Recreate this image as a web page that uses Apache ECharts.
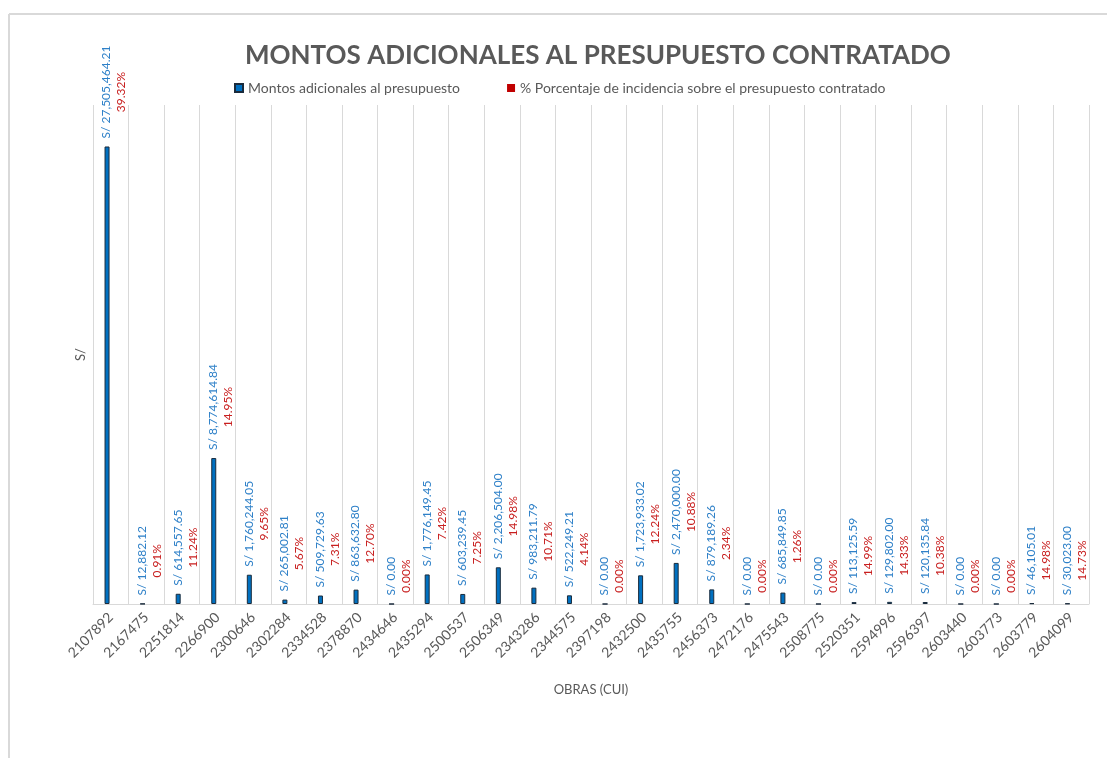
<!DOCTYPE html>
<html>
<head>
<meta charset="utf-8">
<script src="https://cdn.jsdelivr.net/npm/echarts@6/dist/echarts.min.js"></script>
<style>
html,body{margin:0;padding:0;background:#fff;}
#c{width:1107px;height:758px;}
</style>
</head>
<body>
<div id="c"></div>
<script>
const categories = ['2107892','2167475','2251814','2266900','2300646','2302284','2334528','2378870','2434646','2435294','2500537','2506349','2343286','2344575','2397198','2432500','2435755','2456373','2472176','2475543','2508775','2520351','2594996','2596397','2603440','2603773','2603779','2604099'];
const montos = [27505464.21, 12882.12, 614557.65, 8774614.84, 1760244.05, 265002.81, 509729.63, 863632.80, 0.00, 1776149.45, 603239.45, 2206504.00, 983211.79, 522249.21, 0.00, 1723933.02, 2470000.00, 879189.26, 0.00, 685849.85, 0.00, 113125.59, 129802.00, 120135.84, 0.00, 0.00, 46105.01, 30023.00];
const porcentajes = [39.32, 0.91, 11.24, 14.95, 9.65, 5.67, 7.31, 12.70, 0.00, 7.42, 7.25, 14.98, 10.71, 4.14, 0.00, 12.24, 10.88, 2.34, 0.00, 1.26, 0.00, 14.99, 14.33, 10.38, 0.00, 0.00, 14.98, 14.73];
const yMax = 30000000;

const FONT = 'Lato, "Open Sans", "Liberation Sans", sans-serif';
const fmtMoney = v => 'S/ ' + v.toLocaleString('en-US', {minimumFractionDigits: 2, maximumFractionDigits: 2});

const chart = echarts.init(document.getElementById('c'), null, {renderer: 'canvas'});
chart.setOption({
  backgroundColor: '#ffffff',
  animation: false,
  textStyle: {fontFamily: FONT},
  graphic: [
    {type: 'line', shape: {x1: 9, y1: 14, x2: 9, y2: 758}, style: {stroke: '#d9d9d9', lineWidth: 2}},
    {type: 'line', shape: {x1: 9, y1: 14, x2: 1107, y2: 14}, style: {stroke: '#d9d9d9', lineWidth: 2}}
  ],
  title: {
    text: 'MONTOS ADICIONALES AL PRESUPUESTO CONTRATADO',
    left: 240,
    top: 38,
    textStyle: {color: '#595959', fontSize: 26, fontWeight: 'bold', fontFamily: FONT}
  },
  legend: {
    left: 229,
    top: 76,
    itemWidth: 8,
    itemHeight: 8,
    itemGap: 47,
    icon: 'rect',
    textStyle: {color: '#595959', fontSize: 14, fontFamily: FONT},
    data: ['Montos adicionales al presupuesto', '% Porcentaje de incidencia sobre el presupuesto contratado']
  },
  grid: {left: 93, right: 18, top: 105, bottom: 154, containLabel: false},
  xAxis: {
    type: 'category',
    data: categories,
    name: 'OBRAS (CUI)',
    nameLocation: 'middle',
    nameGap: 79,
    nameTextStyle: {color: '#595959', fontSize: 13, fontFamily: FONT},
    axisLine: {show: true, lineStyle: {color: '#d9d9d9', width: 1}},
    axisTick: {show: false},
    splitLine: {show: true, interval: 0, lineStyle: {color: '#d9d9d9', width: 1}},
    axisLabel: {interval: 0, rotate: 45, color: '#595959', fontSize: 14, margin: 11, fontFamily: FONT}
  },
  yAxis: {
    type: 'value',
    min: 0,
    max: yMax,
    name: 'S/',
    nameLocation: 'middle',
    nameGap: 6,
    nameTextStyle: {color: '#595959', fontSize: 13, fontFamily: FONT},
    axisLine: {show: false},
    axisTick: {show: false},
    axisLabel: {show: false},
    splitLine: {show: false}
  },
  series: [
    {
      name: 'Montos adicionales al presupuesto',
      type: 'bar',
      data: montos,
      barWidth: 5,
      barGap: '50%',
      itemStyle: {color: '#0070C0', borderColor: '#1a2b3c', borderWidth: 1},
      label: {
        show: true,
        position: 'top',
        distance: 8,
        rotate: 90,
        align: 'left',
        verticalAlign: 'middle',
        offset: [0, 7],
        fontFamily: FONT,
        formatter: p => '{b|' + fmtMoney(montos[p.dataIndex]) + '}\n{r|' + porcentajes[p.dataIndex].toFixed(2) + '%}',
        rich: {
          b: {color: '#2E80C8', fontSize: 12, lineHeight: 15, fontFamily: FONT},
          r: {color: '#C81E1E', fontSize: 12, lineHeight: 15, fontFamily: FONT, align: 'center'}
        }
      }
    },
    {
      name: '% Porcentaje de incidencia sobre el presupuesto contratado',
      type: 'bar',
      data: porcentajes,
      barWidth: 5,
      itemStyle: {color: '#C00000'},
      label: {show: false}
    }
  ]
});
</script>
</body>
</html>
